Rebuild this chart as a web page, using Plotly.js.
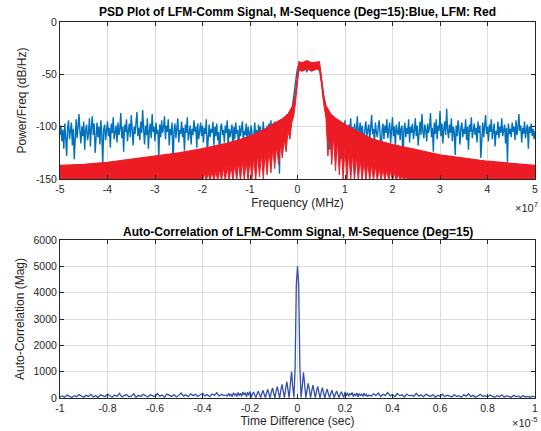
<!DOCTYPE html>
<html><head><meta charset="utf-8">
<script src="https://cdn.plot.ly/plotly-3.0.1.min.js"></script>
<style>html,body{margin:0;padding:0;background:#fff}#chart{width:541px;height:431px}</style>
</head><body><div id="chart"></div>
<script>
// ---------- Top panel: PSD (frequency in units of 1e7 Hz) ----------
const freqStart = -5;
const freqStep = 0.02;
const psdMSeq = [
-108,-99,-114,-103,-121,-97,-110,-128,-101,-94,
-112,-105,-96,-118,-102,-131,-107,-93,-111,-99,
-88,-104,-116,-100,-109,-95,-122,-103,-98,-113,
-106,-92,-119,-101,-90,-108,-97,-125,-104,-96,
-110,-100,-117,-94,-107,-136,-102,-98,-113,-105,
-95,-109,-101,-120,-97,-106,-91,-112,-103,-99,
-115,-96,-108,-102,-87,-111,-100,-124,-98,-105,
-93,-114,-104,-97,-110,-89,-103,-118,-100,-107,
-96,-86,-109,-101,-113,-95,-106,-84,-102,-117,
-99,-108,-92,-121,-104,-97,-111,-88,-105,-100,
-114,-96,-107,-103,-129,-98,-110,-94,-106,-101,
-90,-112,-99,-105,-93,-118,-102,-108,-96,-139,
-104,-97,-111,-100,-92,-115,-103,-107,-95,-110,
-101,-123,-98,-106,-91,-113,-104,-99,-117,-102,
-108,-94,-105,-100,-120,-97,-112,-103,-96,-109,
-99,-115,-101,-107,-93,-126,-104,-98,-110,-102,
-106,-95,-118,-100,-109,-97,-113,-105,-132,-101,
-97,-108,-103,-115,-99,-106,-94,-119,-102,-110,
-104,-98,-121,-100,-112,-96,-107,-103,-127,-99,
-109,-101,-95,-114,-104,-108,-97,-118,-100,-106,
-113,-99,-105,-122,-101,-96,-110,-103,-116,-98,
-107,-100,-119,-104,-95,-111,-102,-124,-99,-106,
-97,
-101,-94,-108,-97,-112,-95,-104,-99,-118,-96,-145,-100,-93,-107,-96,-91,-102,-94,-88,-97,-90,-86,-92,-84,
-80,-74,-66,-58,-50,-44,
-42,-45,-41,-47,-43,-40,-46,-42,-44,-48,-41,-45,-43,-47,-42,-44,-40,-46,-43,-45,-41,-44,
-42,-46,-54,-62,-70,-76,-82,-88,
-92,-98,-90,-122,-96,-94,-101,-97,-112,-99,-95,-104,-100,-108,
-96,-131,-103,-99,-110,-94,-107,-101,-115,-98,
-105,-92,-112,-100,-119,-97,-108,-103,-90,-111,
-102,-96,-114,-99,-106,-123,-101,-95,-109,-104,
-98,-113,-100,-89,-107,-102,-117,-96,-105,-110,
-100,-94,-108,-128,-103,-97,-112,-99,-106,-93,
-111,-101,-96,-116,-104,-91,-109,-100,-120,-98,
-105,-108,-95,-113,-102,-99,-138,-103,-96,-110,
-101,-107,-93,-115,-100,-106,-97,-112,-104,-92,
-109,-99,-118,-102,-95,-108,-88,-104,-111,-98,
-103,-114,-97,-106,-100,-87,-110,-101,-124,-96,
-107,-93,-112,-99,-104,-85,-109,-97,-116,-102,
-95,-108,-83,-103,-111,-98,-106,-92,-114,-100,
-105,-127,-99,-109,-94,-103,-117,-101,-96,-110,
-102,-107,-93,-113,-100,-122,-98,-105,-91,-111,
-104,-97,-108,-101,-115,-95,-106,-99,-130,-103,
-96,-110,-102,-89,-107,-100,-114,-98,-105,-93,
-112,-101,-97,-119,-104,-108,-95,-111,-100,-106,
-92,-109,-103,-98,-116,-101,-134,-97,-107,-102,
-110,-96,-105,-100,-113,-94,-108,-102,-88,-104,
-99,-115,-101,-107,-95,-111,-103,-98,-121,-100,
-106,-97,-109,-102,-112,-104
];
const lfmUpperFreq = [-5,-4.5,-4,-3.5,-3,-2.5,-2,-1.5,-1.2,-1,-0.8,-0.6,-0.4,-0.3,-0.2,-0.1,-0.05,0,0.03,0.1,0.2,0.3,0.4,0.46,0.5,0.55,0.6,0.7,0.8,0.9,1,1.2,1.4,1.6,2,2.5,3,3.5,4,4.5,5];
const lfmUpperPsd = [-137,-136,-134,-131,-128,-125,-121,-116,-112,-109,-105,-100,-95,-92,-88,-80,-70,-52,-38,-39,-37,-39,-38,-38,-52,-70,-80,-88,-92,-95,-98,-103,-108,-112,-117,-122,-127,-130,-133,-135,-137];
const lfmLowerFreq = [-5,-2.04,
-2.00,-1.96,-1.92,-1.88,-1.84,-1.80,-1.76,-1.72,-1.68,-1.64,
-1.60,-1.56,-1.52,-1.48,-1.44,-1.40,-1.36,-1.32,-1.28,-1.24,
-1.20,-1.16,-1.12,-1.08,-1.04,-1.00,-0.96,-0.92,-0.88,-0.84,
-0.80,-0.76,-0.72,-0.68,-0.64,-0.60,-0.56,-0.52,-0.48,-0.44,
-0.40,-0.36,
-0.32,-0.28,-0.24,-0.20,-0.16,-0.12,-0.08,-0.05,0,0.03,0.1,0.2,0.3,0.4,0.46,0.5,0.55,
0.60,0.64,0.68,0.72,0.76,0.80,0.84,0.88,0.92,0.96,
1.00,1.04,1.08,1.12,1.16,1.20,1.24,1.28,1.32,1.36,
1.40,1.44,1.48,1.52,1.56,1.60,1.64,1.68,1.72,1.76,
1.80,1.84,1.88,1.92,1.96,2.00,2.04,2.08,2.12,2.16,
2.20,2.24,2.28,2.32,2.36,2.40,5];
const lfmLowerPsd = [-160,-160,
-152,-145,-152,-144,-152,-143,-152,-142,-152,-141,
-152,-139,-152,-138,-152,-137,-152,-135,-152,-134,
-152,-133,-151,-132,-152,-130,-150,-129,-152,-127,
-148,-126,-150,-124,-146,-122,-144,-120,-140,-118,
-136,-116,
-130,-112,-124,-104,-112,-96,-90,-80,-58,-46,-47,-45,-47,-45,-46,-58,-78,
-92,-128,-102,-136,-108,-142,-113,-146,-117,-150,
-120,-152,-123,-152,-126,-152,-128,-152,-130,-152,
-132,-152,-134,-152,-136,-152,-137,-152,-139,-152,
-140,-152,-141,-152,-142,-152,-144,-152,-145,-152,
-147,-152,-148,-152,-150,-160,-160];
const freqTickVals = [-5,-4,-3,-2,-1,0,1,2,3,4,5];
const freqTickText = ['-5','-4','-3','-2','-1','0','1','2','3','4','5'];
const psdTickVals = [-150,-100,-50,0];
const psdTickText = ['-150','-100','-50','0'];

// ---------- Bottom panel: auto-correlation (lag in units of 1e-5 s) ----------
const lagLeftStart = -1, lagOuterStep = 0.01;
const corrLeft = [
40,80,30,110,60,20,90,50,130,70,
30,100,60,140,40,90,20,120,70,50,
150,80,30,110,60,180,40,90,130,50,
70,160,30,100,60,140,80,40,120,90,
50,170,70,110,30,150,90,60,130,40,
100,190,70,120,50,160,90,140,60,110,
180,80,130,50,150,100,200,70,140,90,
120
];
const lagCenterStart = -0.3, lagCenterStep = 0.005;
const corrCenter = [
120,60,180,90,150,40,200,110,170,50,
210,90,180,60,230,120,200,40,220,100,
250,20,150,230,110,20,160,260,120,15,
180,290,130,15,200,330,150,10,230,380,
170,10,260,430,200,10,300,520,250,10,
350,620,300,10,550,1000,400,20,1200,4300,
5000,
4300,1200,20,420,980,520,10,280,560,320,
10,270,490,240,10,250,440,210,10,230,
390,180,10,190,340,160,15,170,300,140,
15,160,270,120,20,140,240,110,20,230,
90,200,60,180,110,210,50,160,90,190,
40,170,100,150,60,190,80,140,50,120
];
const lagRightStart = 0.3;
const corrRight = [
120,70,160,90,190,60,140,100,210,80,
130,50,170,90,120,40,150,80,110,60,
180,70,120,40,140,90,60,130,30,100,
70,150,50,110,80,40,130,60,90,30,
120,70,160,50,100,30,80,140,60,90,
40,110,70,30,90,50,120,40,80,60,
30,100,50,70,20,90,40,60,30,70,
40
];
const lagTickVals = [-1,-0.8,-0.6,-0.4,-0.2,0,0.2,0.4,0.6,0.8,1];
const lagTickText = ['-1','-0.8','-0.6','-0.4','-0.2','0','0.2','0.4','0.6','0.8','1'];
const corrTickVals = [0,1000,2000,3000,4000,5000,6000];

// ---------- Styles ----------
const TXT = '#262626';
const FONT = 'Liberation Sans, Arial, Helvetica, sans-serif';
const BLUE = '#0072BD';
const RED = '#ED1C24';
const ACBLUE = '#3350A8';

function ax(extra) {
  return Object.assign({
    showline: true, linecolor: TXT, linewidth: 1, mirror: 'ticks',
    ticks: 'inside', ticklen: 4, tickcolor: TXT, tickwidth: 1,
    showgrid: true, gridcolor: '#dcdcdc', gridwidth: 1, zeroline: false,
    tickfont: {family: FONT, size: 10.5, color: TXT}, automargin: false
  }, extra);
}

const traces = [
  {x0: freqStart, dx: freqStep, y: psdMSeq, type: 'scatter', mode: 'lines',
   line: {color: BLUE, width: 1.4}, xaxis: 'x', yaxis: 'y', hoverinfo: 'skip'},
  {x: lfmLowerFreq, y: lfmLowerPsd, type: 'scatter', mode: 'lines',
   line: {color: RED, width: 1}, xaxis: 'x', yaxis: 'y', hoverinfo: 'skip'},
  {x: lfmUpperFreq, y: lfmUpperPsd, type: 'scatter', mode: 'lines', fill: 'tonexty',
   fillcolor: RED, line: {color: RED, width: 1.2}, xaxis: 'x', yaxis: 'y', hoverinfo: 'skip'},
  {x0: lagLeftStart, dx: lagOuterStep, y: corrLeft, type: 'scatter', mode: 'lines',
   line: {color: ACBLUE, width: 1.3}, xaxis: 'x2', yaxis: 'y2', hoverinfo: 'skip'},
  {x0: lagCenterStart, dx: lagCenterStep, y: corrCenter, type: 'scatter', mode: 'lines',
   line: {color: ACBLUE, width: 1.3}, xaxis: 'x2', yaxis: 'y2', hoverinfo: 'skip'},
  {x0: lagRightStart, dx: lagOuterStep, y: corrRight, type: 'scatter', mode: 'lines',
   line: {color: ACBLUE, width: 1.3}, xaxis: 'x2', yaxis: 'y2', hoverinfo: 'skip'}
];

const layout = {
  width: 541, height: 431,
  margin: {l: 60, r: 6, t: 22, b: 33, pad: 0},
  paper_bgcolor: '#ffffff', plot_bgcolor: '#ffffff',
  showlegend: false,
  font: {family: FONT, color: TXT, size: 11},
  xaxis: ax({domain: [0, 1], anchor: 'y', range: [-5, 5], tickvals: freqTickVals, ticktext: freqTickText,
    title: {text: 'Frequency (MHz)', font: {family: FONT, size: 12, color: TXT}, standoff: 4}}),
  yaxis: ax({domain: [0.5824, 1], anchor: 'x', range: [-150, 0], tickvals: psdTickVals, ticktext: psdTickText,
    title: {text: 'Power/Freq (dB/Hz)', font: {family: FONT, size: 12, color: TXT}, standoff: 6}}),
  xaxis2: ax({domain: [0, 1], anchor: 'y2', range: [-1, 1], tickvals: lagTickVals, ticktext: lagTickText,
    title: {text: 'Time Difference (sec)', font: {family: FONT, size: 12, color: TXT}, standoff: 4}}),
  yaxis2: ax({domain: [0, 0.4202], anchor: 'x2', range: [0, 6000], tickvals: corrTickVals,
    title: {text: 'Auto-Correlation (Mag)', font: {family: FONT, size: 12, color: TXT}, standoff: 6}}),
  annotations: [
    {text: '<b>PSD Plot of LFM-Comm Signal, M-Sequence (Deg=15):Blue, LFM: Red</b>',
     xref: 'paper', yref: 'paper', x: 0.5, y: 1.027, xanchor: 'center', yanchor: 'middle',
     showarrow: false, font: {family: FONT, size: 12, color: '#000'}},
    {text: '<b>Auto-Correlation of LFM-Comm Signal, M-Sequence (Deg=15)</b>',
     xref: 'paper', yref: 'paper', x: 0.5, y: 0.441, xanchor: 'center', yanchor: 'middle',
     showarrow: false, font: {family: FONT, size: 12, color: '#000'}},
    {text: '\u00d710<sup>7</sup>', xref: 'paper', yref: 'paper', x: 1.0105, y: 0.508,
     xanchor: 'right', yanchor: 'middle', showarrow: false, font: {family: FONT, size: 11, color: TXT}},
    {text: '\u00d710<sup>-5</sup>', xref: 'paper', yref: 'paper', x: 1.0105, y: -0.064,
     xanchor: 'right', yanchor: 'middle', showarrow: false, font: {family: FONT, size: 11, color: TXT}}
  ]
};

Plotly.newPlot('chart', traces, layout, {displayModeBar: false, staticPlot: true});
</script>
</body></html>
